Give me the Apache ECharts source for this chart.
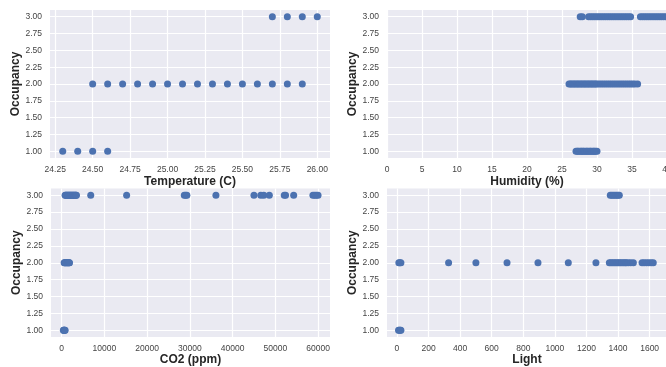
<!DOCTYPE html>
<html>
<head>
<meta charset="utf-8">
<script src="https://cdn.jsdelivr.net/npm/echarts@6/dist/echarts.min.js"></script>
<style>html,body{margin:0;padding:0;background:#fff;}#c{width:666px;height:367px;}</style>
</head>
<body>
<div id="c"></div>
<script>
// ---- data ----
var occTicks = [1.00, 1.25, 1.50, 1.75, 2.00, 2.25, 2.50, 2.75, 3.00];

var tempTicks = [24.25, 24.50, 24.75, 25.00, 25.25, 25.50, 25.75, 26.00];
var tempOcc1 = [24.3, 24.4, 24.5, 24.6];
var tempOcc2 = [24.5, 24.6, 24.7, 24.8, 24.9, 25.0, 25.1, 25.2, 25.3, 25.4, 25.5, 25.6, 25.7, 25.8, 25.9];
var tempOcc3 = [25.7, 25.8, 25.9, 26.0];

var humTicks = [0, 5, 10, 15, 20, 25, 30, 35, 40];
var humOcc1 = [27.0, 27.2, 27.3, 27.5, 27.7, 27.8, 28.0, 28.1, 28.3, 28.5, 28.6, 28.8, 29.0, 29.1, 29.3, 29.5, 29.6, 29.8, 30.0];
var humOcc2 = [26.0, 26.2, 26.4, 26.6, 26.8, 27.0, 27.2, 27.4, 27.6, 27.8, 28.0, 28.2, 28.4, 28.6, 28.8, 29.0, 29.2, 29.4, 29.6, 29.8, 30.0, 30.3, 30.6, 30.9, 31.2, 31.5, 31.8, 32.1, 32.4, 32.7, 33.0, 33.3, 33.6, 33.9, 34.2, 34.5, 34.8, 35.1, 35.4, 35.8];
var humOcc3 = [27.6, 27.9, 28.8, 29.1, 29.4, 29.7, 30.0, 30.3, 30.6, 30.9, 31.2, 31.5, 31.8, 32.1, 32.4, 32.7, 33.0, 33.3, 33.6, 33.9, 34.2, 34.5, 34.8, 36.2, 36.5, 36.8, 37.1, 37.4, 37.7, 38.0, 38.3, 38.6, 38.9, 39.2, 39.5, 39.8, 40.2, 40.6, 41.0];

var co2Ticks = [0, 10000, 20000, 30000, 40000, 50000, 60000];
var co2Occ1 = [400, 500, 600, 700, 800];
var co2Occ2 = [580, 700, 850, 1000, 1150, 1300, 1450, 1600, 1750, 1820];
var co2Occ3 = [800, 950, 1100, 1250, 1400, 1550, 1700, 1850, 2000, 2150, 2300, 2450, 2600, 2750, 2900, 3050, 3200, 3350, 3450, 6800, 15200, 28700, 29000, 29300, 36100, 45000, 46600, 47300, 48600, 52100, 52400, 54300, 58800, 59200, 59600, 60000];

var lightTicks = [0, 200, 400, 600, 800, 1000, 1200, 1400, 1600];
var lightOcc1 = [10, 15, 20, 25];
var lightOcc2 = [12, 18, 25, 327, 500, 697, 893, 1085, 1260, 1345, 1355, 1365, 1375, 1385, 1395, 1405, 1415, 1425, 1435, 1445, 1452, 1465, 1480, 1497, 1552, 1565, 1580, 1595, 1610, 1623];
var lightOcc3 = [1351, 1360, 1370, 1380, 1390, 1400, 1408];

// ---- chart ----
var FONT = 'Liberation Sans, Arial, sans-serif';
var grids = [
  {left: 50, top: 10, width: 280, height: 148},
  {left: 387, top: 10, width: 280, height: 148},
  {left: 51, top: 188.5, width: 279, height: 148.5},
  {left: 387, top: 188.5, width: 280, height: 148.5}
].map(function (g) {
  return Object.assign({show: true, backgroundColor: '#eaeaf2', borderWidth: 0, containLabel: false, outerBoundsMode: 'none'}, g);
});

function xAx(i, name, min, max, ticks, fmt, gap) {
  return {
    gridIndex: i, type: 'value', min: min, max: max,
    name: name, nameLocation: 'middle', nameGap: gap,
    nameTextStyle: {fontFamily: FONT, fontWeight: 'bold', fontSize: 12, color: '#262626'},
    axisLine: {show: false},
    axisTick: {show: false, customValues: ticks},
    axisLabel: {customValues: ticks, formatter: fmt, fontFamily: FONT, fontSize: 8.5, color: '#444', margin: 7},
    splitLine: {show: true, lineStyle: {color: '#ffffff', width: 1.2}}
  };
}
function yAx(i) {
  return {
    gridIndex: i, type: 'value', min: 0.9, max: 3.1,
    name: 'Occupancy', nameLocation: 'middle', nameGap: 23,
    nameTextStyle: {fontFamily: FONT, fontWeight: 'bold', fontSize: 12, color: '#262626'},
    axisLine: {show: false},
    axisTick: {show: false, customValues: occTicks},
    axisLabel: {customValues: occTicks, formatter: function (v) { return v.toFixed(2); }, fontFamily: FONT, fontSize: 8.5, color: '#444', margin: 8},
    splitLine: {show: true, lineStyle: {color: '#ffffff', width: 1.2}}
  };
}
function str(v) { return String(v); }
function f2(v) { return v.toFixed(2); }

function ser(i, xs, occ) {
  return {
    type: 'scatter', xAxisIndex: i, yAxisIndex: i, symbolSize: 7,
    itemStyle: {color: '#4c72b0', opacity: 1},
    data: xs.map(function (x) { return [x, occ]; }),
    silent: true, animation: false
  };
}

var option = {
  animation: false,
  grid: grids,
  xAxis: [
    xAx(0, 'Temperature (C)', 24.215, 26.085, tempTicks, f2, 18),
    xAx(1, 'Humidity (%)', 0, 40, humTicks, str, 18),
    xAx(2, 'CO2 (ppm)', -2500, 62800, co2Ticks, str, 17),
    xAx(3, 'Light', -63, 1710, lightTicks, str, 17)
  ],
  yAxis: [yAx(0), yAx(1), yAx(2), yAx(3)],
  series: [
    ser(0, tempOcc1, 1), ser(0, tempOcc2, 2), ser(0, tempOcc3, 3),
    ser(1, humOcc1, 1), ser(1, humOcc2, 2), ser(1, humOcc3, 3),
    ser(2, co2Occ1, 1), ser(2, co2Occ2, 2), ser(2, co2Occ3, 3),
    ser(3, lightOcc1, 1), ser(3, lightOcc2, 2), ser(3, lightOcc3, 3)
  ]
};
var chart = echarts.init(document.getElementById('c'), null, {renderer: 'canvas'});
chart.setOption(option);
</script>
</body>
</html>
